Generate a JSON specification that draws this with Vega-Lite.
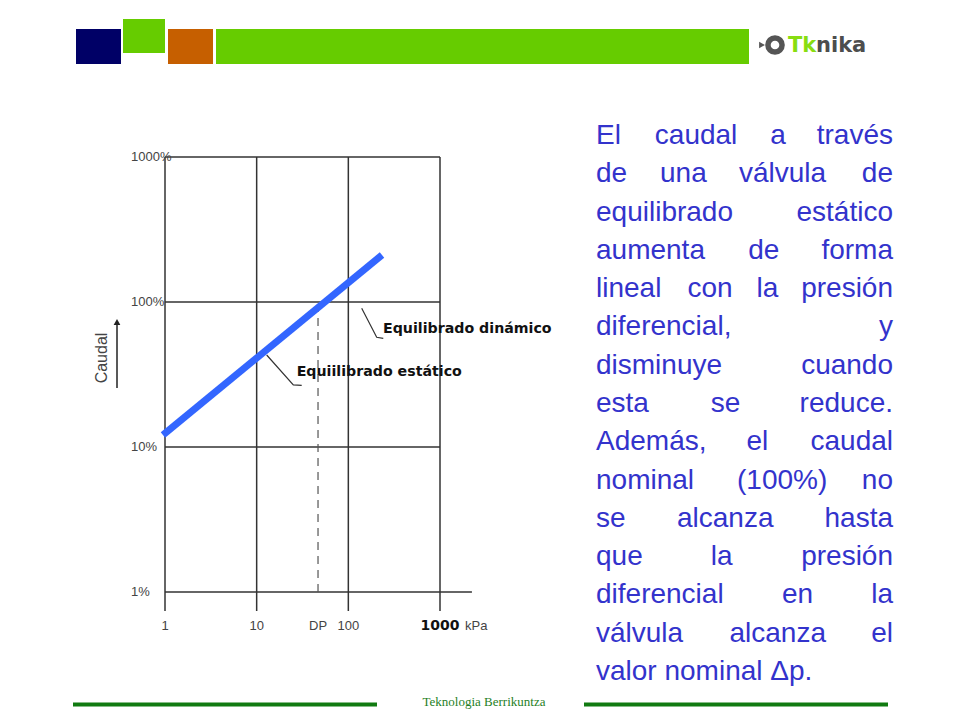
{
  "$schema": "https://vega.github.io/schema/vega-lite/v6.json",
  "width": 960,
  "height": 720,
  "autosize": {"type": "none"},
  "padding": 0,
  "background": "white",
  "config": {"view": {"stroke": null}},
  "resolve": {"scale": {"x": "independent", "y": "independent"}},
  "layer": [
    {
      "data": {"values": [
        {"part": "navy", "left": 76, "right": 121, "top": 29, "bottom": 64},
        {"part": "lime", "left": 123, "right": 165, "top": 19, "bottom": 53},
        {"part": "orange", "left": 168, "right": 213, "top": 29, "bottom": 64},
        {"part": "bar", "left": 216, "right": 749, "top": 29, "bottom": 64}
      ]},
      "mark": {"type": "rect"},
      "encoding": {
        "x": {"field": "left", "type": "quantitative", "scale": {"domain": [0, 960], "range": [0, 960], "nice": false, "zero": false}, "axis": null},
        "x2": {"field": "right"},
        "y": {"field": "top", "type": "quantitative", "scale": {"domain": [0, 720], "range": [0, 720], "nice": false, "zero": false}, "axis": null},
        "y2": {"field": "bottom"},
        "color": {"field": "part", "type": "nominal", "scale": {"domain": ["navy", "lime", "orange", "bar"], "range": ["#000066", "#66cc00", "#c65f00", "#66cc00"]}, "legend": null}
      }
    },
    {
      "data": {"values": [{"cx": 775, "cy": 45}]},
      "mark": {"type": "point", "shape": "circle", "size": 200, "strokeWidth": 5.5, "color": "#555555", "filled": false, "opacity": 1},
      "encoding": {
        "x": {"field": "cx", "type": "quantitative", "scale": {"domain": [0, 960], "range": [0, 960], "nice": false, "zero": false}, "axis": null},
        "y": {"field": "cy", "type": "quantitative", "scale": {"domain": [0, 720], "range": [0, 720], "nice": false, "zero": false}, "axis": null}
      }
    },
    {
      "data": {"values": [{"cx": 762, "cy": 45}]},
      "mark": {"type": "point", "shape": "triangle-right", "size": 45, "filled": true, "color": "#555555", "opacity": 1},
      "encoding": {
        "x": {"field": "cx", "type": "quantitative", "scale": {"domain": [0, 960], "range": [0, 960], "nice": false, "zero": false}, "axis": null},
        "y": {"field": "cy", "type": "quantitative", "scale": {"domain": [0, 720], "range": [0, 720], "nice": false, "zero": false}, "axis": null}
      }
    },
    {
      "data": {"values": [{"cx": 788, "cy": 46, "word": "Tk"}]},
      "mark": {"type": "text", "align": "left", "baseline": "middle", "font": "DejaVu Sans", "fontWeight": "bold", "fontSize": 21, "color": "#88dd11"},
      "encoding": {
        "x": {"field": "cx", "type": "quantitative", "scale": {"domain": [0, 960], "range": [0, 960], "nice": false, "zero": false}, "axis": null},
        "y": {"field": "cy", "type": "quantitative", "scale": {"domain": [0, 720], "range": [0, 720], "nice": false, "zero": false}, "axis": null},
        "text": {"field": "word"}
      }
    },
    {
      "data": {"values": [{"cx": 816, "cy": 46, "word": "nika"}]},
      "mark": {"type": "text", "align": "left", "baseline": "middle", "font": "DejaVu Sans", "fontWeight": "bold", "fontSize": 21, "color": "#4d4d4d"},
      "encoding": {
        "x": {"field": "cx", "type": "quantitative", "scale": {"domain": [0, 960], "range": [0, 960], "nice": false, "zero": false}, "axis": null},
        "y": {"field": "cy", "type": "quantitative", "scale": {"domain": [0, 720], "range": [0, 720], "nice": false, "zero": false}, "axis": null},
        "text": {"field": "word"}
      }
    },
    {
      "data": {"values": [
        {"from": 73, "to": 377, "at": 704.5},
        {"from": 584, "to": 888, "at": 704.5}
      ]},
      "mark": {"type": "rule", "color": "#117a11", "strokeWidth": 4},
      "encoding": {
        "x": {"field": "from", "type": "quantitative", "scale": {"domain": [0, 960], "range": [0, 960], "nice": false, "zero": false}, "axis": null},
        "x2": {"field": "to"},
        "y": {"field": "at", "type": "quantitative", "scale": {"domain": [0, 720], "range": [0, 720], "nice": false, "zero": false}, "axis": null}
      }
    },
    {
      "data": {"values": [{"from": 484, "at": 702, "label": "Teknologia Berrikuntza"}]},
      "mark": {"type": "text", "font": "Liberation Serif", "fontSize": 13, "color": "#1f7f1f", "align": "center", "baseline": "middle"},
      "encoding": {
        "x": {"field": "from", "type": "quantitative", "scale": {"domain": [0, 960], "range": [0, 960], "nice": false, "zero": false}, "axis": null},
        "y": {"field": "at", "type": "quantitative", "scale": {"domain": [0, 720], "range": [0, 720], "nice": false, "zero": false}, "axis": null},
        "text": {"field": "label"}
      }
    },
    {
      "data": {"name": "para"},
      "transform": [
        {"calculate": "15 * length(datum.word) - 7.5 * (length(split(datum.word, 'i')) + length(split(datum.word, 'l')) + length(split(datum.word, 't')) + length(split(datum.word, 'f')) + length(split(datum.word, 'r')) + length(split(datum.word, '.')) + length(split(datum.word, ',')) + length(split(datum.word, '(')) + length(split(datum.word, ')')) - 9) + 8 * (length(split(datum.word, 'm')) + length(split(datum.word, '%')) - 2) + 3.5 * (length(split(datum.word, 'A')) + length(split(datum.word, 'E')) - 2)", "as": "cw"},
        {"window": [{"op": "sum", "field": "cw", "as": "cum"}], "groupby": ["line"], "sort": [{"field": "w", "order": "ascending"}]},
        {"joinaggregate": [{"op": "sum", "field": "cw", "as": "total"}, {"op": "count", "as": "n"}], "groupby": ["line"]},
        {"calculate": "datum.n > 1 ? ((datum.cum - datum.cw) + (datum.w - 1) * (297 - datum.total) / (datum.n - 1)) / 297 : 0", "as": "pos"},
        {"filter": "datum.w < datum.n || datum.n == 1"}
      ],
      "mark": {"type": "text", "align": "left", "baseline": "alphabetic", "font": "Liberation Sans", "fontSize": 28, "color": "#3333cc"},
      "encoding": {
        "x": {"field": "pos", "type": "quantitative", "scale": {"domain": [0, 1], "range": [596, 893], "nice": false, "zero": false}, "axis": null},
        "y": {"field": "line", "type": "quantitative", "scale": {"domain": [1, 15], "range": [144, 680], "nice": false, "zero": false}, "axis": null},
        "text": {"field": "word"}
      }
    },
    {
      "data": {"name": "para"},
      "transform": [
        {"joinaggregate": [{"op": "count", "as": "n"}], "groupby": ["line"]},
        {"filter": "datum.w == datum.n && datum.n > 1"},
        {"calculate": "1", "as": "pos"}
      ],
      "mark": {"type": "text", "align": "right", "baseline": "alphabetic", "font": "Liberation Sans", "fontSize": 28, "color": "#3333cc"},
      "encoding": {
        "x": {"field": "pos", "type": "quantitative", "scale": {"domain": [0, 1], "range": [596, 893], "nice": false, "zero": false}, "axis": null},
        "y": {"field": "line", "type": "quantitative", "scale": {"domain": [1, 15], "range": [144, 680], "nice": false, "zero": false}, "axis": null},
        "text": {"field": "word"}
      }
    },
    {
      "data": {"values": [
        {"kpa": 1, "low": 0.74, "high": 1000},
        {"kpa": 10, "low": 0.74, "high": 1000},
        {"kpa": 100, "low": 0.74, "high": 1000},
        {"kpa": 1000, "low": 0.74, "high": 1000}
      ]},
      "mark": {"type": "rule", "color": "#333333", "strokeWidth": 1.5},
      "encoding": {
        "x": {"field": "kpa", "type": "quantitative", "scale": {"type": "log", "domain": [1, 1000], "range": [165, 440], "nice": false}, "axis": null},
        "y": {"field": "low", "type": "quantitative", "scale": {"type": "log", "domain": [1, 1000], "range": [592, 157], "nice": false}, "axis": null},
        "y2": {"field": "high"}
      }
    },
    {
      "data": {"values": [
        {"caudal": 1000, "start": 1, "end": 1000},
        {"caudal": 100, "start": 1, "end": 1000},
        {"caudal": 10, "start": 1, "end": 1000},
        {"caudal": 1, "start": 1, "end": 2230}
      ]},
      "mark": {"type": "rule", "color": "#333333", "strokeWidth": 1.5},
      "encoding": {
        "y": {"field": "caudal", "type": "quantitative", "scale": {"type": "log", "domain": [1, 1000], "range": [592, 157], "nice": false}, "axis": null},
        "x": {"field": "start", "type": "quantitative", "scale": {"type": "log", "domain": [1, 1000], "range": [165, 440], "nice": false}, "axis": null},
        "x2": {"field": "end"}
      }
    },
    {
      "data": {"values": [{"kpa": 46.7, "low": 1, "high": 95}]},
      "mark": {"type": "rule", "color": "#555555", "strokeWidth": 1.2, "strokeDash": [8, 6]},
      "encoding": {
        "x": {"field": "kpa", "type": "quantitative", "scale": {"type": "log", "domain": [1, 1000], "range": [165, 440], "nice": false}, "axis": null},
        "y": {"field": "low", "type": "quantitative", "scale": {"type": "log", "domain": [1, 1000], "range": [592, 157], "nice": false}, "axis": null},
        "y2": {"field": "high"}
      }
    },
    {
      "data": {"values": [
        {"label": "din", "seq": 1, "kpa": 139.9, "caudal": 90.5},
        {"label": "din", "seq": 2, "kpa": 203.9, "caudal": 57.1},
        {"label": "din", "seq": 3, "kpa": 240.6, "caudal": 56.2},
        {"label": "est", "seq": 1, "kpa": 12.86, "caudal": 43.1},
        {"label": "est", "seq": 2, "kpa": 25.1, "caudal": 26.8},
        {"label": "est", "seq": 3, "kpa": 31.0, "caudal": 26.6}
      ]},
      "mark": {"type": "line", "color": "#333333", "strokeWidth": 1.2},
      "encoding": {
        "x": {"field": "kpa", "type": "quantitative", "scale": {"type": "log", "domain": [1, 1000], "range": [165, 440], "nice": false}, "axis": null},
        "y": {"field": "caudal", "type": "quantitative", "scale": {"type": "log", "domain": [1, 1000], "range": [592, 157], "nice": false}, "axis": null},
        "detail": {"field": "label", "type": "nominal"},
        "order": {"field": "seq", "type": "quantitative"}
      }
    },
    {
      "data": {"values": [{"kpa": 0.95, "caudal": 12.1}, {"kpa": 233, "caudal": 211}]},
      "mark": {"type": "line", "color": "#3366ff", "strokeWidth": 7, "strokeCap": "butt"},
      "encoding": {
        "x": {"field": "kpa", "type": "quantitative", "scale": {"type": "log", "domain": [1, 1000], "range": [165, 440], "nice": false}, "axis": null},
        "y": {"field": "caudal", "type": "quantitative", "scale": {"type": "log", "domain": [1, 1000], "range": [592, 157], "nice": false}, "axis": null}
      }
    },
    {
      "data": {"values": [
        {"kpa": 239, "caudal": 65.2, "label": "Equilibrado dinámico"},
        {"kpa": 27.3, "caudal": 32.9, "label": "Equiilibrado estático"}
      ]},
      "mark": {"type": "text", "align": "left", "baseline": "middle", "font": "DejaVu Sans", "fontWeight": "bold", "fontSize": 14.2, "color": "#111111"},
      "encoding": {
        "x": {"field": "kpa", "type": "quantitative", "scale": {"type": "log", "domain": [1, 1000], "range": [165, 440], "nice": false}, "axis": null},
        "y": {"field": "caudal", "type": "quantitative", "scale": {"type": "log", "domain": [1, 1000], "range": [592, 157], "nice": false}, "axis": null},
        "text": {"field": "label"}
      }
    },
    {
      "data": {"values": [
        {"kpa": 1, "caudal": 1000, "label": "1000%"},
        {"kpa": 1, "caudal": 100, "label": "100%"},
        {"kpa": 1, "caudal": 10, "label": "10%"},
        {"kpa": 1, "caudal": 1, "label": "1%"}
      ]},
      "mark": {"type": "text", "align": "left", "baseline": "middle", "dx": -34, "font": "Liberation Sans", "fontSize": 13, "color": "#444444"},
      "encoding": {
        "x": {"field": "kpa", "type": "quantitative", "scale": {"type": "log", "domain": [1, 1000], "range": [165, 440], "nice": false}, "axis": null},
        "y": {"field": "caudal", "type": "quantitative", "scale": {"type": "log", "domain": [1, 1000], "range": [592, 157], "nice": false}, "axis": null},
        "text": {"field": "label"}
      }
    },
    {
      "data": {"values": [
        {"kpa": 1, "caudal": 1, "label": "1"},
        {"kpa": 10, "caudal": 1, "label": "10"},
        {"kpa": 100, "caudal": 1, "label": "100"},
        {"kpa": 46.7, "caudal": 1, "label": "DP"}
      ]},
      "mark": {"type": "text", "align": "center", "baseline": "middle", "dy": 34, "font": "Liberation Sans", "fontSize": 13, "color": "#444444"},
      "encoding": {
        "x": {"field": "kpa", "type": "quantitative", "scale": {"type": "log", "domain": [1, 1000], "range": [165, 440], "nice": false}, "axis": null},
        "y": {"field": "caudal", "type": "quantitative", "scale": {"type": "log", "domain": [1, 1000], "range": [592, 157], "nice": false}, "axis": null},
        "text": {"field": "label"}
      }
    },
    {
      "data": {"values": [{"kpa": 1000, "caudal": 1, "label": "1000"}]},
      "mark": {"type": "text", "align": "center", "baseline": "middle", "dy": 34, "font": "DejaVu Sans", "fontWeight": "bold", "fontSize": 14, "color": "#111111"},
      "encoding": {
        "x": {"field": "kpa", "type": "quantitative", "scale": {"type": "log", "domain": [1, 1000], "range": [165, 440], "nice": false}, "axis": null},
        "y": {"field": "caudal", "type": "quantitative", "scale": {"type": "log", "domain": [1, 1000], "range": [592, 157], "nice": false}, "axis": null},
        "text": {"field": "label"}
      }
    },
    {
      "data": {"values": [{"kpa": 1000, "caudal": 1, "label": "kPa"}]},
      "mark": {"type": "text", "align": "left", "baseline": "middle", "dx": 25, "dy": 34, "font": "Liberation Sans", "fontSize": 13, "color": "#444444"},
      "encoding": {
        "x": {"field": "kpa", "type": "quantitative", "scale": {"type": "log", "domain": [1, 1000], "range": [165, 440], "nice": false}, "axis": null},
        "y": {"field": "caudal", "type": "quantitative", "scale": {"type": "log", "domain": [1, 1000], "range": [592, 157], "nice": false}, "axis": null},
        "text": {"field": "label"}
      }
    },
    {
      "data": {"values": [{"kpa": 0.2055, "caudal": 41.1, "label": "Caudal"}]},
      "mark": {"type": "text", "align": "center", "baseline": "middle", "angle": 270, "font": "Liberation Sans", "fontSize": 16, "color": "#444444"},
      "encoding": {
        "x": {"field": "kpa", "type": "quantitative", "scale": {"type": "log", "domain": [1, 1000], "range": [165, 440], "nice": false}, "axis": null},
        "y": {"field": "caudal", "type": "quantitative", "scale": {"type": "log", "domain": [1, 1000], "range": [592, 157], "nice": false}, "axis": null},
        "text": {"field": "label"}
      }
    },
    {
      "data": {"values": [{"kpa": 0.2995, "low": 25.5, "high": 72.8}]},
      "mark": {"type": "rule", "color": "#222222", "strokeWidth": 1.5},
      "encoding": {
        "x": {"field": "kpa", "type": "quantitative", "scale": {"type": "log", "domain": [1, 1000], "range": [165, 440], "nice": false}, "axis": null},
        "y": {"field": "low", "type": "quantitative", "scale": {"type": "log", "domain": [1, 1000], "range": [592, 157], "nice": false}, "axis": null},
        "y2": {"field": "high"}
      }
    },
    {
      "data": {"values": [{"kpa": 0.2995, "caudal": 72.8}]},
      "mark": {"type": "point", "shape": "triangle-up", "size": 45, "filled": true, "color": "#222222", "opacity": 1},
      "encoding": {
        "x": {"field": "kpa", "type": "quantitative", "scale": {"type": "log", "domain": [1, 1000], "range": [165, 440], "nice": false}, "axis": null},
        "y": {"field": "caudal", "type": "quantitative", "scale": {"type": "log", "domain": [1, 1000], "range": [592, 157], "nice": false}, "axis": null}
      }
    }
  ],
  "datasets": {
    "para": [
      {"line": 1, "w": 1, "word": "El"}, {"line": 1, "w": 2, "word": "caudal"}, {"line": 1, "w": 3, "word": "a"}, {"line": 1, "w": 4, "word": "través"},
      {"line": 2, "w": 1, "word": "de"}, {"line": 2, "w": 2, "word": "una"}, {"line": 2, "w": 3, "word": "válvula"}, {"line": 2, "w": 4, "word": "de"},
      {"line": 3, "w": 1, "word": "equilibrado"}, {"line": 3, "w": 2, "word": "estático"},
      {"line": 4, "w": 1, "word": "aumenta"}, {"line": 4, "w": 2, "word": "de"}, {"line": 4, "w": 3, "word": "forma"},
      {"line": 5, "w": 1, "word": "lineal"}, {"line": 5, "w": 2, "word": "con"}, {"line": 5, "w": 3, "word": "la"}, {"line": 5, "w": 4, "word": "presión"},
      {"line": 6, "w": 1, "word": "diferencial,"}, {"line": 6, "w": 2, "word": "y"},
      {"line": 7, "w": 1, "word": "disminuye"}, {"line": 7, "w": 2, "word": "cuando"},
      {"line": 8, "w": 1, "word": "esta"}, {"line": 8, "w": 2, "word": "se"}, {"line": 8, "w": 3, "word": "reduce."},
      {"line": 9, "w": 1, "word": "Además,"}, {"line": 9, "w": 2, "word": "el"}, {"line": 9, "w": 3, "word": "caudal"},
      {"line": 10, "w": 1, "word": "nominal"}, {"line": 10, "w": 2, "word": "(100%)"}, {"line": 10, "w": 3, "word": "no"},
      {"line": 11, "w": 1, "word": "se"}, {"line": 11, "w": 2, "word": "alcanza"}, {"line": 11, "w": 3, "word": "hasta"},
      {"line": 12, "w": 1, "word": "que"}, {"line": 12, "w": 2, "word": "la"}, {"line": 12, "w": 3, "word": "presión"},
      {"line": 13, "w": 1, "word": "diferencial"}, {"line": 13, "w": 2, "word": "en"}, {"line": 13, "w": 3, "word": "la"},
      {"line": 14, "w": 1, "word": "válvula"}, {"line": 14, "w": 2, "word": "alcanza"}, {"line": 14, "w": 3, "word": "el"},
      {"line": 15, "w": 1, "word": "valor nominal Δp."}
    ]
  }
}
